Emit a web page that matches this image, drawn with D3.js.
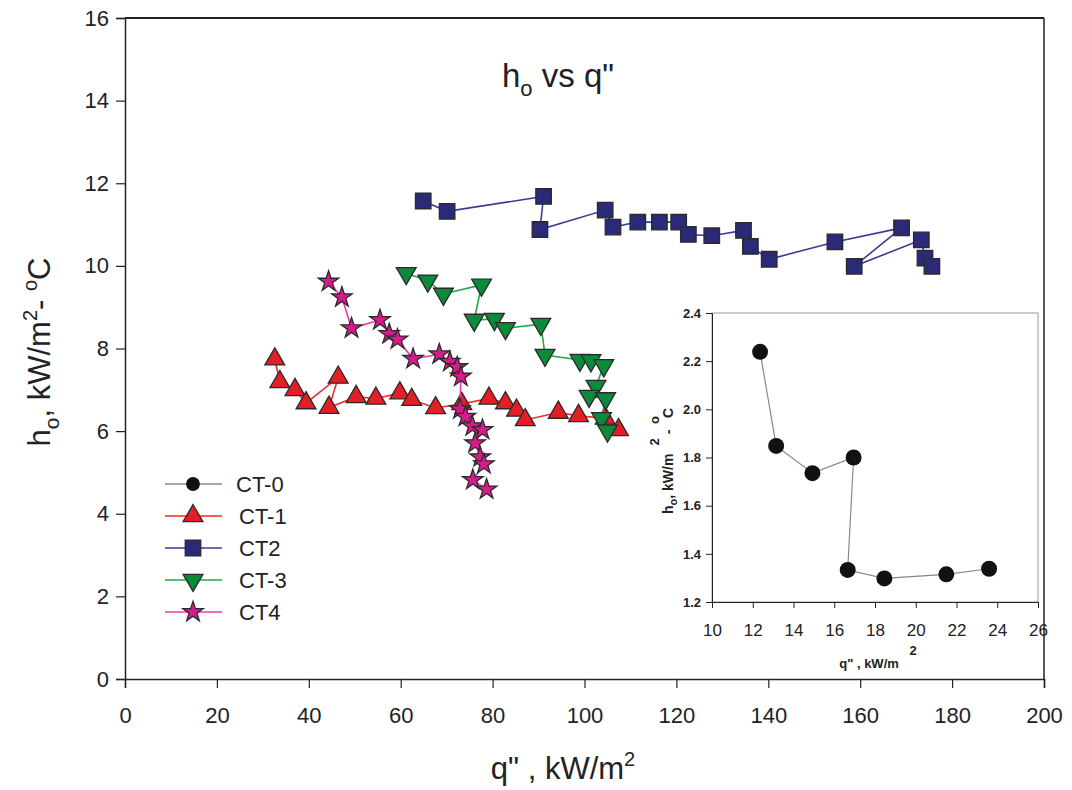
<!DOCTYPE html>
<html><head><meta charset="utf-8">
<script src="https://cdn.jsdelivr.net/npm/d3@7"></script>
<style>
body{margin:0;background:#fff;}
svg{display:block;font-family:"Liberation Sans",Arial,sans-serif;}
</style></head>
<body>
<svg id="c" width="1072" height="790"></svg>
<script>
// ---- data ----
const ct1Q = [32.6, 33.7, 37.0, 39.4, 46.4, 44.4, 50.3, 54.6, 59.8, 62.4, 67.6, 73.3, 79.2, 82.8, 85.2, 87.1, 94.3, 98.7, 104.5, 107.4];
const ct1H = [7.74, 7.19, 7.00, 6.68, 7.30, 6.57, 6.83, 6.79, 6.92, 6.76, 6.56, 6.66, 6.79, 6.68, 6.50, 6.27, 6.45, 6.37, 6.31, 6.03];
const ct2Q = [64.9, 70.1, 91.1, 90.3, 104.5, 106.2, 111.6, 116.3, 120.5, 122.6, 127.7, 134.6, 136.1, 140.2, 154.5, 169.0, 158.7, 173.3, 174.1, 175.6];
const ct2H = [11.57, 11.32, 11.68, 10.88, 11.35, 10.94, 11.06, 11.06, 11.06, 10.76, 10.73, 10.86, 10.47, 10.16, 10.58, 10.92, 9.99, 10.63, 10.19, 9.99];
const ct3Q = [61.2, 65.9, 69.3, 77.6, 76.0, 80.4, 82.8, 90.5, 91.4, 99.0, 101.4, 104.2, 102.5, 101.0, 104.6, 103.7, 105.0];
const ct3H = [9.82, 9.64, 9.32, 9.54, 8.69, 8.71, 8.49, 8.59, 7.84, 7.72, 7.71, 7.59, 7.09, 6.85, 6.79, 6.31, 6.01];
const ct4Q = [44.3, 47.2, 49.3, 55.5, 57.5, 59.3, 62.7, 68.4, 70.7, 72.3, 73.1, 72.9, 74.1, 75.6, 77.8, 76.2, 77.3, 78.1, 75.7, 78.7];
const ct4H = [9.62, 9.24, 8.49, 8.69, 8.35, 8.22, 7.75, 7.86, 7.68, 7.55, 7.32, 6.53, 6.35, 6.12, 6.03, 5.71, 5.37, 5.20, 4.82, 4.59];
const ct0Q = [12.36, 13.15, 14.93, 16.95, 16.66, 18.46, 21.5, 23.6];
const ct0H = [2.239, 1.848, 1.735, 1.80, 1.333, 1.298, 1.315, 1.338];
const seriesNames = ["CT-0", "CT-1", "CT2", "CT-3", "CT4"];
const mainXTicks = [0, 20, 40, 60, 80, 100, 120, 140, 160, 180, 200];
const mainYTicks = [0, 2, 4, 6, 8, 10, 12, 14, 16];
const insetXTicks = [10, 12, 14, 16, 18, 20, 22, 24, 26];
const insetYTicks = [1.2, 1.4, 1.6, 1.8, 2.0, 2.2, 2.4];

// ---- styles ----
const styles = {
  "CT-0": {line: "#888888", fill: "#111111", sym: d3.symbolCircle, size: 200, rot: 0},
  "CT-1": {line: "#ee2a2a", fill: "#e31e24", sym: d3.symbolTriangle, size: 170, rot: 0},
  "CT2":  {line: "#3b3b96", fill: "#2b2a78", sym: d3.symbolSquare, size: 240, rot: 0},
  "CT-3": {line: "#1fa84a", fill: "#0c8a3c", sym: d3.symbolTriangle, size: 170, rot: 180},
  "CT4":  {line: "#ee3aa6", fill: "#d81b8c", sym: d3.symbolStar, size: 130, rot: 0}
};

const svg = d3.select("#c");

// ---- main chart ----
const L = 125, R = 1044, T = 18, B = 679;
const x = d3.scaleLinear().domain([0, 200]).range([L, R]);
const y = d3.scaleLinear().domain([0, 16]).range([B, T]);

const gx = svg.append("g").attr("transform", `translate(0,${B})`)
  .call(d3.axisBottom(x).tickValues(mainXTicks).tickSize(9).tickPadding(19).tickFormat(d3.format("d")));
const gy = svg.append("g").attr("transform", `translate(${L},0)`)
  .call(d3.axisLeft(y).tickValues(mainYTicks).tickSize(9).tickPadding(7).tickFormat(d3.format("d")));
[gx, gy].forEach(g => {
  g.select(".domain").attr("stroke", "#222").attr("stroke-width", 1.5);
  g.selectAll(".tick line").attr("stroke", "#222").attr("stroke-width", 1.2);
  g.selectAll(".tick text").attr("fill", "#222").style("font-size", "22px");
});
// frame top/right
svg.append("line").attr("x1", L).attr("x2", R).attr("y1", T).attr("y2", T).attr("stroke", "#222").attr("stroke-width", 2);
svg.append("line").attr("x1", R).attr("x2", R).attr("y1", T).attr("y2", B).attr("stroke", "#222").attr("stroke-width", 1.5);

// title
const title = svg.append("text").attr("x", 502).attr("y", 87).attr("fill", "#222").style("font-size", "33px");
title.append("tspan").text("h");
title.append("tspan").text("o").attr("dy", 9).style("font-size", "22px");
title.append("tspan").text(" vs q\"").attr("dy", -9);

// x title
const xt = svg.append("text").attr("x", 563).attr("y", 779).attr("text-anchor", "middle").attr("fill", "#222")
  .style("font-size", "31px");
xt.append("tspan").text("q\" , kW/m");
xt.append("tspan").text("2").attr("dy", -13).style("font-size", "20px");

// y title
const yt = svg.append("text").attr("transform", "translate(50,352) rotate(-90)").attr("text-anchor", "middle")
  .attr("fill", "#222").style("font-size", "31px");
yt.append("tspan").text("h");
yt.append("tspan").text("o").attr("dy", 9).style("font-size", "21px");
yt.append("tspan").text(", kW/m").attr("dy", -9);
yt.append("tspan").text("2").attr("dy", -13).style("font-size", "20px");
yt.append("tspan").text("- ").attr("dy", 13);
yt.append("tspan").text("o").attr("dy", -13).style("font-size", "20px");
yt.append("tspan").text("C").attr("dy", 13);

function drawSeries(g, name, qs, hs, xs, ys, lw) {
  const st = styles[name];
  const pts = qs.map((q, i) => [q, hs[i]]);
  g.append("path").datum(pts).attr("fill", "none").attr("stroke", st.line).attr("stroke-width", lw)
    .attr("d", d3.line().x(d => xs(d[0])).y(d => ys(d[1])));
  const sym = d3.symbol().type(st.sym).size(st.size);
  g.selectAll(null).data(pts).enter().append("path")
    .attr("d", sym)
    .attr("transform", d => `translate(${xs(d[0])},${ys(d[1])}) rotate(${st.rot})`)
    .attr("fill", st.fill).attr("stroke", name === "CT-0" ? "none" : "#2a2a2a").attr("stroke-width", 1.3);
}

const gm = svg.append("g");
drawSeries(gm, "CT-1", ct1Q, ct1H, x, y, 1.6);
drawSeries(gm, "CT2", ct2Q, ct2H, x, y, 1.6);
drawSeries(gm, "CT-3", ct3Q, ct3H, x, y, 1.6);
drawSeries(gm, "CT4", ct4Q, ct4H, x, y, 1.6);

// legend
const legY = [484, 516, 548, 580, 612];
const lg = svg.append("g");
seriesNames.forEach((n, i) => {
  const st = styles[n];
  lg.append("line").attr("x1", 165).attr("x2", 222).attr("y1", legY[i]).attr("y2", legY[i])
    .attr("stroke", st.line).attr("stroke-width", 1.5);
  lg.append("path").attr("d", d3.symbol().type(st.sym).size(n === "CT-0" ? 150 : st.size)())
    .attr("transform", `translate(193,${legY[i]}) rotate(${st.rot})`)
    .attr("fill", st.fill).attr("stroke", n === "CT-0" ? "none" : "#2a2a2a").attr("stroke-width", 1.3);
  lg.append("text").attr("x", i === 0 ? 236 : 239).attr("y", legY[i] + 8).attr("fill", "#222")
    .style("font-size", "22px").text(n);
});

// ---- inset ----
const iL = 712, iR = 1038, iT = 313, iB = 602;
const ix = d3.scaleLinear().domain([10, 26]).range([iL, iR]);
const iy = d3.scaleLinear().domain([1.2, 2.4]).range([iB, iT]);
svg.append("rect").attr("x", iL).attr("y", iT).attr("width", iR - iL).attr("height", iB - iT)
  .attr("fill", "#fff").attr("stroke", "#999").attr("stroke-width", 1);
const igx = svg.append("g").attr("transform", `translate(0,${iB})`)
  .call(d3.axisBottom(ix).tickValues(insetXTicks).tickSize(6).tickPadding(16).tickFormat(d3.format("d")));
const igy = svg.append("g").attr("transform", `translate(${iL},0)`)
  .call(d3.axisLeft(iy).tickValues(insetYTicks).tickSize(6).tickPadding(5).tickFormat(d3.format(".1f")));
[igx, igy].forEach(g => {
  g.select(".domain").attr("stroke", "#222").attr("stroke-width", 1);
  g.selectAll(".tick line").attr("stroke", "#222");
});
igx.selectAll(".tick text").attr("fill", "#222").style("font-size", "17px");
igy.selectAll(".tick text").attr("fill", "#222").style("font-size", "13px").style("font-weight", "bold");

drawSeries(svg.append("g"), "CT-0", ct0Q, ct0H, ix, iy, 1.2);

// inset x title
svg.append("text").attr("x", 869).attr("y", 668).attr("text-anchor", "middle").attr("fill", "#222")
  .style("font-size", "13px").style("font-weight", "bold").text("q\" , kW/m");
svg.append("text").attr("x", 913).attr("y", 655).attr("text-anchor", "middle").attr("fill", "#222")
  .style("font-size", "13px").style("font-weight", "bold").text("2");
// inset y title
const iyt = svg.append("text").attr("transform", "translate(673,514) rotate(-90)").attr("text-anchor", "start")
  .attr("fill", "#222").style("font-size", "14px").style("font-weight", "bold");
iyt.append("tspan").text("h");
iyt.append("tspan").text("o").attr("dy", 4).style("font-size", "11px");
iyt.append("tspan").text(", kW/m").attr("dy", -4);
svg.append("text").attr("transform", "translate(673,432) rotate(-90)").attr("text-anchor", "middle")
  .attr("fill", "#222").style("font-size", "14px").style("font-weight", "bold").text("-");
svg.append("text").attr("transform", "translate(673,413) rotate(-90)").attr("text-anchor", "middle")
  .attr("fill", "#222").style("font-size", "14px").style("font-weight", "bold").text("C");
svg.append("text").attr("transform", "translate(659,442) rotate(-90)").attr("text-anchor", "middle")
  .attr("fill", "#222").style("font-size", "13px").style("font-weight", "bold").text("2");
svg.append("text").attr("transform", "translate(659,420) rotate(-90)").attr("text-anchor", "middle")
  .attr("fill", "#222").style("font-size", "13px").style("font-weight", "bold").text("o");
</script>
</body></html>
